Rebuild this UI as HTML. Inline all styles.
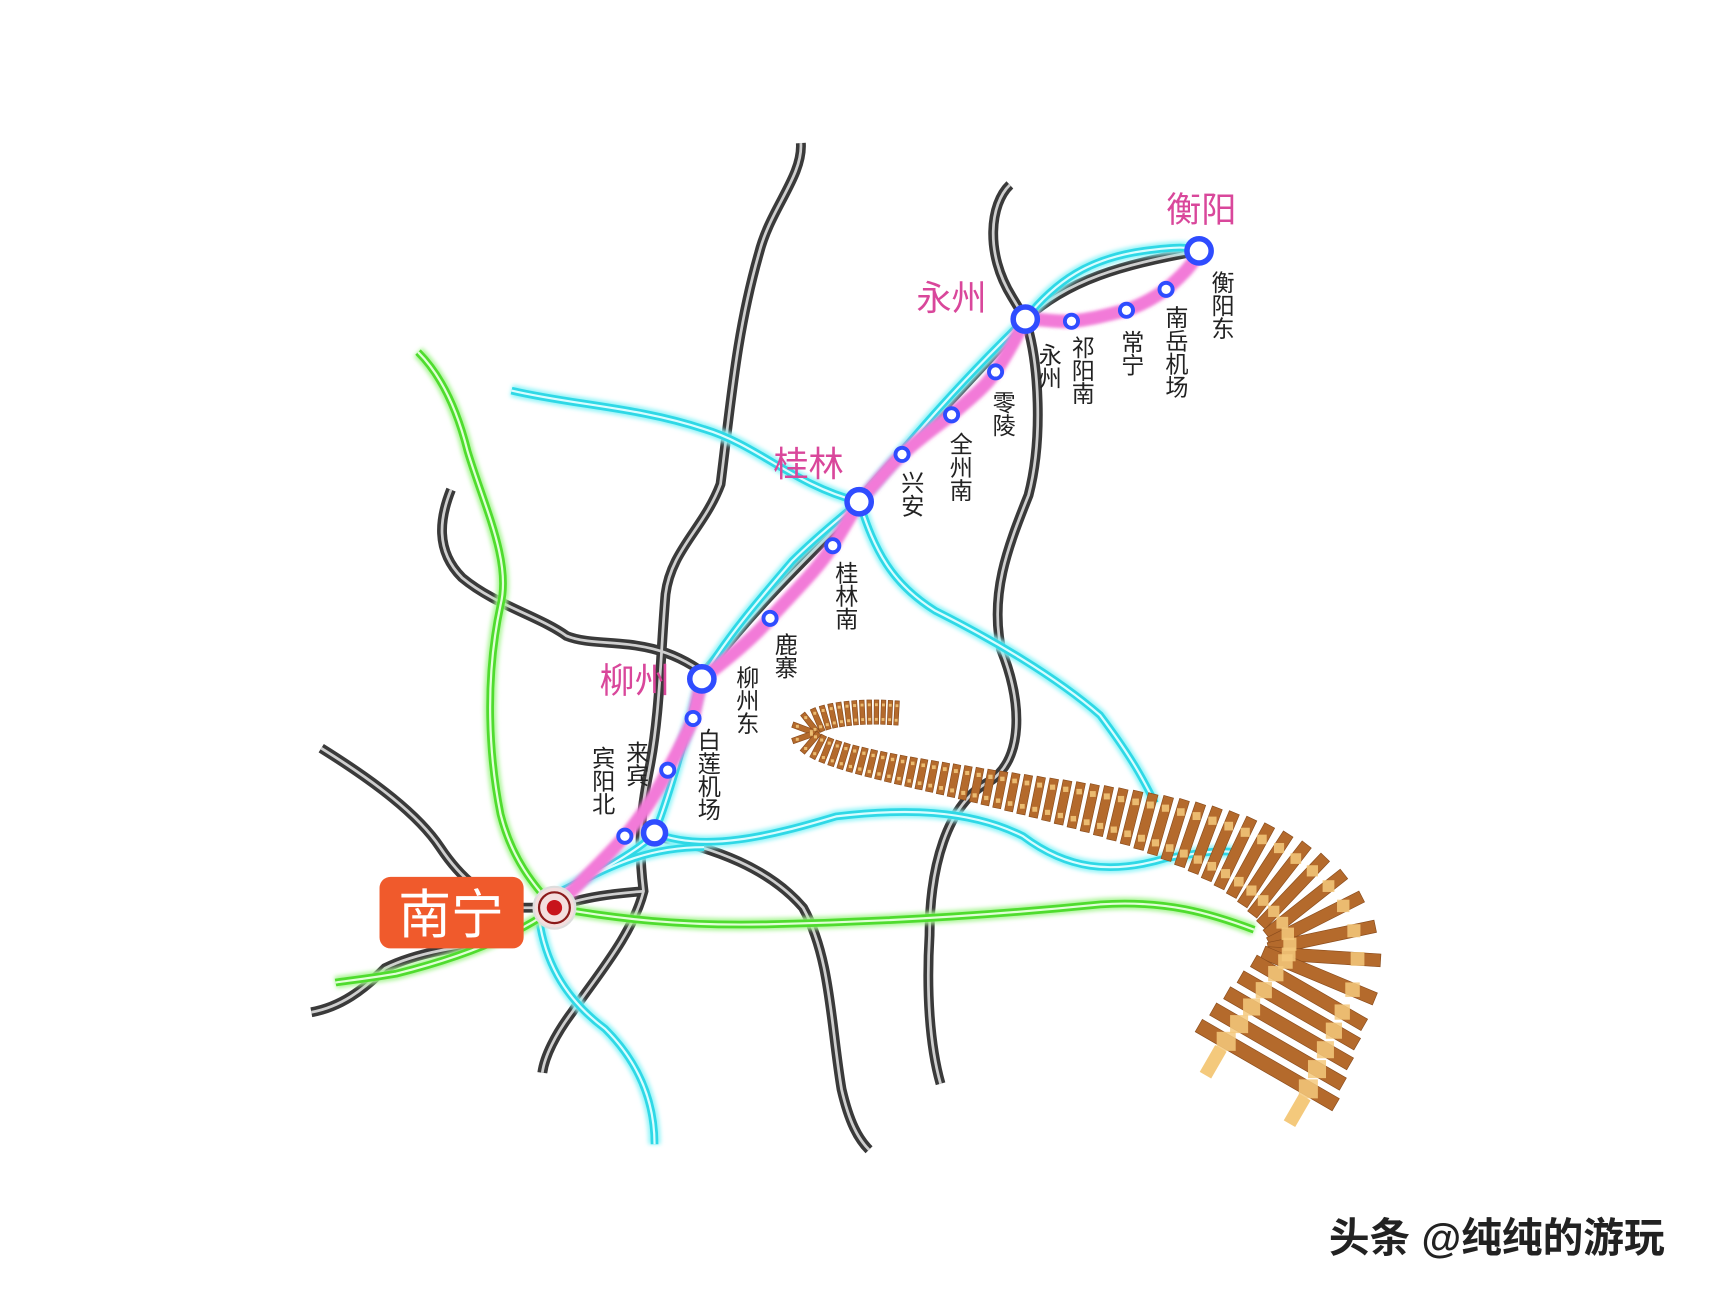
<!DOCTYPE html>
<html><head><meta charset="utf-8"><style>
html,body{margin:0;padding:0;background:#fff;}
svg{display:block}
.c{font-family:"Liberation Sans","Noto Sans CJK SC",sans-serif;}
.v{font-family:"Liberation Sans","Noto Sans CJK SC",sans-serif;font-size:21px;fill:#222;writing-mode:vertical-rl;}
.city{font-family:"Liberation Sans","Noto Sans CJK SC",sans-serif;font-size:32px;fill:#d9479b;}
</style></head><body>
<svg id="s" width="1726" height="1295" viewBox="0 0 1569 1177" preserveAspectRatio="none" xmlns="http://www.w3.org/2000/svg">
<defs>
<filter id="g" x="-20%" y="-20%" width="140%" height="140%"><feGaussianBlur stdDeviation="2"/></filter>
</defs>
<g fill="none" stroke-linecap="round" stroke-linejoin="round">
<g id="gray">
<path d="M728,130 C730,160 700,190 690,230 C670,300 665,360 655,440 C640,480 610,500 605,540 C600,600 600,650 590,700 C582,740 580,770 585,810 C575,850 540,890 520,920 C505,940 495,960 493,975"/>
<path d="M918,168 C900,185 895,230 920,270 L932,290 C970,255 1020,240 1090,228"/>
<path d="M932,290 C945,330 948,400 935,450 C915,500 900,540 910,590 C930,640 930,690 900,710 C860,730 845,790 845,850 C842,900 845,950 855,985"/>
<path d="M410,445 C400,470 395,500 420,525 C450,550 490,560 515,578 C545,590 590,575 640,612"/>
<path d="M292,680 C340,710 380,740 400,770 C420,800 440,815 470,825 L505,825 C530,815 560,812 585,810"/>
<path d="M283,920 C310,915 330,900 350,880 C380,865 420,860 460,855"/>
<path d="M595,760 C650,770 700,790 730,825 C755,870 755,930 765,990 C772,1020 780,1035 790,1045"/>
<path d="M640,612 C680,560 720,520 760,480 C800,430 860,370 932,290"/>
</g>
</g>
<use href="#gray" stroke="#3a3a3a" stroke-width="9" fill="none"/>
<use href="#gray" stroke="#cfcfcf" stroke-width="2.5" fill="none"/>
<g fill="none" stroke-linecap="round" stroke-linejoin="round">
<g id="cyan">
<path d="M510,810 C550,790 585,770 595,757 C610,720 625,660 638,617 C660,580 690,545 720,510 C745,485 765,470 781,456 C820,410 860,360 932,290 C960,255 990,235 1040,228 C1070,224 1080,224 1090,228"/>
<path d="M465,355 C520,368 580,370 640,390 C690,405 720,440 781,456"/>
<path d="M781,456 C795,500 810,530 850,555 C900,580 960,615 1000,650 C1030,690 1040,710 1050,730"/>
<path d="M595,757 C640,775 700,760 760,742 C820,735 880,735 930,760 C970,790 1010,795 1060,780 C1090,775 1110,772 1125,775"/>
<path d="M490,835 C495,870 510,905 550,935 C580,965 595,1000 595,1040"/>
<path d="M520,805 C560,785 590,770 640,770"/>
</g>
<g id="green">
<path d="M380,320 C400,340 415,370 425,410 C440,460 465,510 455,550 C440,620 445,690 455,740 C465,780 485,805 504,825"/>
<path d="M504,825 C560,835 620,842 700,840 C800,838 900,832 1000,822 C1060,818 1100,830 1140,845"/>
<path d="M504,825 C470,850 420,870 360,885 C330,890 310,892 305,893"/>
</g>
</g>
<use href="#cyan" stroke="#8ff4f8" stroke-width="11" filter="url(#g)" fill="none"/>
<use href="#cyan" stroke="#2fd8e6" stroke-width="7" fill="none"/>
<use href="#cyan" stroke="#d8fdff" stroke-width="2" fill="none"/>
<use href="#green" stroke="#a8f594" stroke-width="11" filter="url(#g)" fill="none"/>
<use href="#green" stroke="#4fdc2e" stroke-width="7" fill="none"/>
<use href="#green" stroke="#e0ffd6" stroke-width="2" fill="none"/>
<path id="mag" d="M504,825 C530,800 555,775 568,760 C585,740 600,715 607,700 C618,680 625,665 630,653 L638,617 C660,600 685,580 700,562 C725,535 745,515 757,496 L781,456 C800,435 810,422 820,413 C840,395 855,385 865,377 C885,360 897,350 905,338 C918,318 925,305 932,290 C950,290 960,293 974,292 C995,290 1010,285 1024,282 C1040,276 1050,270 1060,263 C1075,250 1085,240 1090,228" fill="none" stroke="#f27ad8" stroke-width="9" filter="url(#g)"/>
<use href="#mag" stroke="#e22cc0" stroke-width="5" filter="none"/>
<use href="#mag" stroke="#ffc6f2" stroke-width="1.5" filter="none"/>
<path id="track" d="M815,648 C780,645 735,650 730,665 C728,685 820,700 900,716 C1000,736 1090,752 1150,790 C1195,820 1210,850 1200,885 L1148,975" fill="none" stroke="none"/>
<g id="rails"></g>
<g stroke="#2f4cff" fill="#fff">
<g stroke-width="3.5">
<circle cx="568" cy="760" r="6"/><circle cx="607" cy="700" r="6"/><circle cx="630" cy="653" r="6"/>
<circle cx="700" cy="562" r="6"/><circle cx="757" cy="496" r="6"/><circle cx="820" cy="413" r="6"/>
<circle cx="865" cy="377" r="6"/><circle cx="905" cy="338" r="6"/><circle cx="974" cy="292" r="6"/>
<circle cx="1024" cy="282" r="6"/><circle cx="1060" cy="263" r="6"/>
</g>
<g stroke-width="5">
<circle cx="595" cy="757" r="10"/><circle cx="638" cy="617" r="11"/><circle cx="781" cy="456" r="11"/>
<circle cx="932" cy="290" r="11"/><circle cx="1090" cy="228" r="11"/>
</g>
</g>
<rect x="345" y="797" width="131" height="65" rx="10" fill="#f05a2c"/>
<text x="410" y="848" text-anchor="middle" class="c" font-size="48" fill="#fff">南宁</text>
<circle cx="504" cy="825" r="19" fill="#f3dede" stroke="#ddd" stroke-width="2"/>
<circle cx="504" cy="825" r="14" fill="none" stroke="#8b1a1a" stroke-width="2"/>
<circle cx="504" cy="825" r="7" fill="#c8141c"/>
<text x="1092" y="202" text-anchor="middle" class="city">衡阳</text>
<text x="865" y="282" text-anchor="middle" class="city">永州</text>
<text x="735" y="433" text-anchor="middle" class="city">桂林</text>
<text x="577" y="630" text-anchor="middle" class="city">柳州</text>
<text class="v" x="1110" y="246">衡阳东</text>
<text class="v" x="1068" y="278">南岳机场</text>
<text class="v" x="1028" y="300">常宁</text>
<text class="v" x="983" y="305">祁阳南</text>
<text class="v" x="953" y="312">永州</text>
<text class="v" x="911" y="355">零陵</text>
<text class="v" x="872" y="393">全州南</text>
<text class="v" x="828" y="428">兴安</text>
<text class="v" x="768" y="510">桂林南</text>
<text class="v" x="713" y="575">鹿寨</text>
<text class="v" x="678" y="605">柳州东</text>
<text class="v" x="643" y="662">白莲机场</text>
<text class="v" x="578" y="673">来宾</text>
<text class="v" x="547" y="678">宾阳北</text>
<text x="1208" y="1138" class="c" font-size="37" font-weight="bold" fill="#222">头条 @纯纯的游玩</text>
</svg>
<script>
(function(){
var p=document.getElementById('track'),g=document.getElementById('rails');
var L=p.getTotalLength();
function pt(s){return p.getPointAtLength(Math.max(0,Math.min(L,s)));}
function W(s){var t=s/L;return 22+125*Math.pow(t,2.4);}
function T(s){var t=s/L;return 4+9*t;}
var ties=[],s=0;
while(s<=L){ties.push(s);s+=T(s)+2+5*(s/L);}
var railsH='',tiesH='',topH='';
function norm(s){var a=pt(s-12),b=pt(s+12);var dx=b.x-a.x,dy=b.y-a.y,l=Math.hypot(dx,dy)||1;return [dx/l,dy/l];}
ties.forEach(function(s){
 var c=pt(s),d=norm(s),n=[-d[1],d[0]],w=W(s)/2,t=T(s)/2;
 var q=[[c.x+n[0]*w-d[0]*t,c.y+n[1]*w-d[1]*t],[c.x-n[0]*w-d[0]*t,c.y-n[1]*w-d[1]*t],[c.x-n[0]*w+d[0]*t,c.y-n[1]*w+d[1]*t],[c.x+n[0]*w+d[0]*t,c.y+n[1]*w+d[1]*t]];
 tiesH+='<polygon points="'+q.map(function(a){return a[0].toFixed(1)+','+a[1].toFixed(1)}).join(' ')+'" fill="#b46a2c" stroke="#8a4c1c" stroke-width="0.6"/>';
 [0.3,-0.3].forEach(function(f){
  var r=W(s)*0.06;var x=c.x+n[0]*W(s)*f,y=c.y+n[1]*W(s)*f;
  topH+='<rect x="'+(x-r).toFixed(1)+'" y="'+(y-r).toFixed(1)+'" width="'+(2*r).toFixed(1)+'" height="'+(2*r).toFixed(1)+'" fill="#f4c97c" opacity="0.85"/>';
 });
});
var e=pt(L),d=norm(L),n=[-d[1],d[0]];
[0.3,-0.3].forEach(function(f){
 var x=e.x+n[0]*W(L)*f,y=e.y+n[1]*W(L)*f;
 railsH+='<line x1="'+x+'" y1="'+y+'" x2="'+(x+d[0]*28)+'" y2="'+(y+d[1]*28)+'" stroke="#f4c97c" stroke-width="12"/>';
});
g.innerHTML=railsH+tiesH+topH;
})();
</script>
</body></html>
